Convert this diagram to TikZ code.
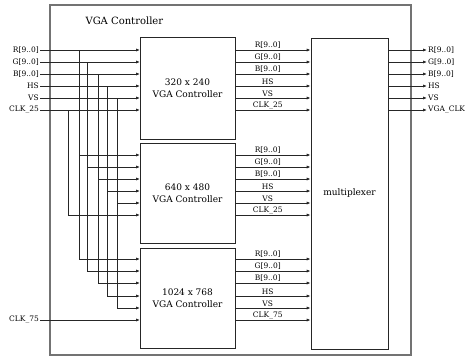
\documentclass[tikz,border=0pt]{standalone}
\usepackage{fontspec}
\setmainfont{DejaVu Serif}
\usetikzlibrary{arrows.meta}
\begin{document}
\begin{tikzpicture}[x=1pt,y=-1pt,
  sig/.style={line width=0.8pt,draw=black!85,-{Latex[length=4pt,width=3.2pt]}},
  blk/.style={draw=black!85,line width=0.8pt,minimum width=95pt,inner sep=0pt,align=center,font=\fontsize{9}{11.5}\selectfont},
  lab/.style={inner sep=1pt,font=\fontsize{7.5}{8}\selectfont},
  olab/.style={inner sep=0.8pt,font=\fontsize{7.5}{8}\selectfont}]
\useasboundingbox (0,0) rectangle (468,357);
% outer frame
\node[draw=black!55,line width=1.2pt,minimum width=361pt,minimum height=350pt,inner sep=0pt] (outer) at (230.5,180) {};
\node[anchor=west,font=\fontsize{10}{11}\selectfont] (title) at (82,21) {VGA Controller};
% blocks
\node[blk,minimum height=101.5pt] (b1) at (187.5,88.25) {320 x 240\\VGA Controller};
\node[blk,minimum height=100pt] (b2) at (187.5,193) {640 x 480\\VGA Controller};
\node[blk,minimum height=100pt] (b3) at (187.5,298) {1024 x 768\\VGA Controller};
\node[draw=black!85,line width=0.8pt,minimum width=77pt,minimum height=311pt,inner sep=0pt,font=\fontsize{9}{10}\selectfont] (mux) at (349.5,193.5) {multiplexer};
% inputs R,G,B,HS,VS
\foreach \n/\t/\y/\xv/\yb/\yc in {R/{R[9..0]}/50/79/155/259, G/{G[9..0]}/62/87/167/271, B/{B[9..0]}/74/98/179/283, H/HS/86/107/191/296, V/VS/98/117/203/308}{
  \node[lab,anchor=east] (in\n) at (40,\y) {\t};
  \coordinate (j\n) at (\xv,\y);
  \coordinate (ta\n) at (140,\y);
  \coordinate (tb\n) at (140,\yb);
  \coordinate (tc\n) at (140,\yc);
  \draw[sig] (in\n.east) -- (ta\n);
  \draw[sig] (j\n) |- (tb\n);
  \draw[sig] (j\n) |- (tc\n);
}
% CLK_25
\node[lab,anchor=east] (inC) at (40,110) {CLK\_25};
\coordinate (jC) at (68,110);
\coordinate (taC) at (140,110);
\coordinate (tbC) at (140,215);
\draw[sig] (inC.east) -- (taC);
\draw[sig] (jC) |- (tbC);
% CLK_75
\node[lab,anchor=east] (inD) at (40,320) {CLK\_75};
\coordinate (tcD) at (140,320);
\draw[sig] (inD.east) -- (tcD);
% block outputs to mux
\foreach \b/\ys/\clk in {b1/{50,62,74,86,98,110}/CLK\_25, b2/{155,167,179,191,203,215}/CLK\_25, b3/{259,271,283,296,308,320}/CLK\_75}{
  \foreach \y [count=\i] in \ys {
    \ifcase\i\or\def\t{R[9..0]}\or\def\t{G[9..0]}\or\def\t{B[9..0]}\or\def\t{HS}\or\def\t{VS}\or\def\t{\clk}\fi
    \coordinate (s\b\i) at (\b.east |- 0,\y);
    \coordinate (d\b\i) at (mux.west |- 0,\y);
    \draw[sig] (s\b\i) -- node[olab,above,pos=0.43] {\t} (d\b\i);
  }
}
% mux outputs
\foreach \t/\y [count=\i] in {{R[9..0]}/50,{G[9..0]}/62,{B[9..0]}/74,HS/86,VS/98,VGA\_CLK/110}{
  \coordinate (m\i) at (mux.east |- 0,\y);
  \node[lab,anchor=west] (o\i) at (427,\y) {\t};
  \draw[sig] (m\i) -- (o\i.west);
}
\end{tikzpicture}
\end{document}
